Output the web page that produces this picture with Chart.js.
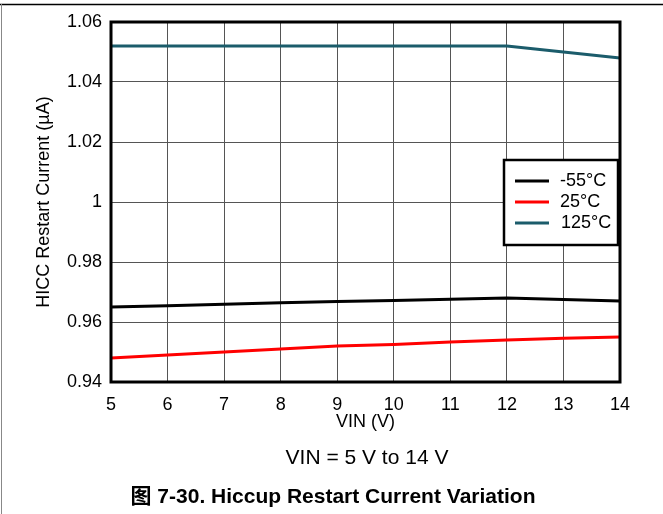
<!DOCTYPE html>
<html>
<head>
<meta charset="utf-8">
<script src="https://cdn.jsdelivr.net/npm/chart.js@4"></script>
<style>
  html, body { margin: 0; padding: 0; background: #fff; }
  #wrap { position: relative; width: 663px; height: 514px; }
</style>
</head>
<body>
<div id="wrap"><canvas id="chart" width="663" height="514"></canvas></div>
<script>
var vin = [5, 6, 7, 8, 9, 10, 11, 12, 13, 14];
var seriesNames = ['-55°C', '25°C', '125°C'];
var currentNeg55 = [0.965, 0.9654, 0.9659, 0.9664, 0.9668, 0.9672, 0.9676, 0.968, 0.9675, 0.967];
var current25 = [0.948, 0.949, 0.950, 0.951, 0.952, 0.9525, 0.9533, 0.954, 0.9546, 0.955];
var current125 = [1.052, 1.052, 1.052, 1.052, 1.052, 1.052, 1.052, 1.052, 1.050, 1.048];
var seriesColors = ['#000000', '#ff0000', '#1b5c6b'];
var yTicks = [0.94, 0.96, 0.98, 1, 1.02, 1.04, 1.06];

var FONT = "'Liberation Sans', Arial, sans-serif";

function points(values) {
  return vin.map(function (v, i) { return { x: v, y: values[i] }; });
}

var allSeries = [currentNeg55, current25, current125];
var datasets = allSeries.map(function (vals, i) {
  return {
    label: seriesNames[i],
    data: points(vals),
    borderColor: seriesColors[i],
    backgroundColor: seriesColors[i],
    borderWidth: 3,
    pointRadius: 0,
    tension: 0
  };
});

var framePlugin = {
  id: 'frame',
  beforeDraw: function (chart) {
    var ctx = chart.ctx;
    ctx.save();
    ctx.fillStyle = '#fff';
    ctx.fillRect(0, 0, chart.width, chart.height);
    ctx.strokeStyle = '#000';
    ctx.lineWidth = 1.5;
    ctx.beginPath();
    ctx.moveTo(0, 4.5);
    ctx.lineTo(chart.width, 4.5);
    ctx.stroke();
    ctx.strokeStyle = '#888';
    ctx.lineWidth = 1;
    ctx.beginPath();
    ctx.moveTo(1.5, 4);
    ctx.lineTo(1.5, chart.height);
    ctx.stroke();
    ctx.restore();
  },
  afterDraw: function (chart) {
    var ctx = chart.ctx;
    var a = chart.chartArea;
    ctx.save();
    // plot border
    ctx.strokeStyle = '#000';
    ctx.lineWidth = 3;
    ctx.strokeRect(a.left, a.top, a.right - a.left, a.bottom - a.top);

    // legend box
    var lx = 504, ly = 160, lw = 114, lh = 85;
    ctx.fillStyle = '#fff';
    ctx.fillRect(lx, ly, lw, lh);
    ctx.lineWidth = 2.5;
    ctx.strokeRect(lx, ly, lw, lh);
    ctx.font = '18px ' + FONT;
    ctx.textBaseline = 'middle';
    ctx.textAlign = 'left';
    chart.data.datasets.forEach(function (ds, i) {
      var y = 181 + i * 21;
      ctx.strokeStyle = ds.borderColor;
      ctx.lineWidth = 3;
      ctx.beginPath();
      ctx.moveTo(515, y);
      ctx.lineTo(549, y);
      ctx.stroke();
      ctx.fillStyle = '#000';
      ctx.fillText(ds.label, i === 2 ? 561 : 560, y);
    });

    // captions
    ctx.textAlign = 'center';
    ctx.fillStyle = '#000';
    ctx.font = '21px ' + FONT;
    ctx.fillText('VIN = 5 V to 14 V', 367, 458);
    ctx.font = "bold 21px 'Liberation Sans', Arial, 'Noto Sans CJK SC', sans-serif";
    ctx.fillText('图 7-30. Hiccup Restart Current Variation', 333, 497);
    ctx.restore();
  }
};

new Chart(document.getElementById('chart'), {
  type: 'line',
  data: { datasets: datasets },
  options: {
    responsive: false,
    animation: false,
    layout: { padding: { top: 22, right: 43, bottom: 81, left: 0 } },
    plugins: { legend: { display: false }, tooltip: { enabled: false } },
    scales: {
      x: {
        type: 'linear',
        min: 5,
        max: 14,
        afterFit: function (s) { s.height = 51; },
        ticks: { stepSize: 1, color: '#000', padding: 12, font: { family: FONT, size: 18 } },
        grid: { color: '#555', lineWidth: 1, drawTicks: false },
        border: { display: false },
        title: { display: true, text: 'VIN (V)', color: '#000', font: { family: FONT, size: 18 }, padding: { top: 0, bottom: 0 } }
      },
      y: {
        min: 0.94,
        max: 1.06,
        afterFit: function (s) { s.width = 111; },
        afterBuildTicks: function (s) { s.ticks = yTicks.map(function (v) { return { value: v }; }); },
        ticks: {
          color: '#000',
          padding: 9,
          font: { family: FONT, size: 18 },
          callback: function (v) { return String(Math.round(v * 100) / 100); }
        },
        grid: { color: '#555', lineWidth: 1, drawTicks: false },
        border: { display: false },
        title: { display: true, text: 'HICC Restart Current (µA)', color: '#000', font: { family: FONT, size: 18 }, padding: { top: 33, bottom: 0 } }
      }
    }
  },
  plugins: [framePlugin]
});
</script>
</body>
</html>
